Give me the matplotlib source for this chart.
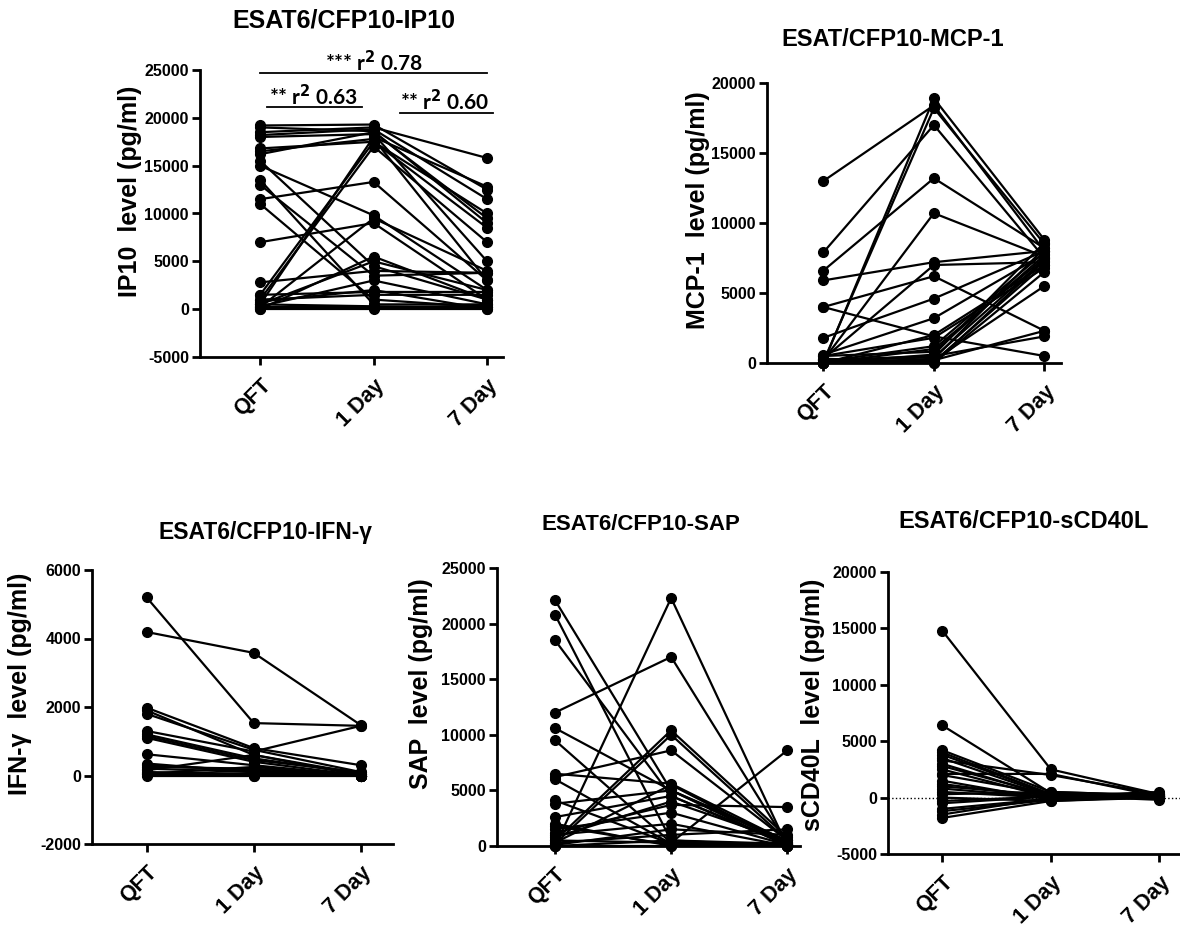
import matplotlib
matplotlib.use("Agg")
import matplotlib.pyplot as plt

plt.rcParams['font.family'] = ['Liberation Sans', 'DejaVu Sans']
plt.rcParams['font.weight'] = 'bold'
plt.rcParams['axes.unicode_minus'] = False

days = ['QFT', '1 Day', '7 Day']

# one value per subject at QFT, 1 Day, 7 Day
ip10_qft = [19200, 18500, 18200, 16800, 16200, 11500, 15000, 7000, 13500, 13000,
            11000, 2800, 1500, 1000, 500, 200, 500, 0, 200, 0,
            500, 1000, 1500, 300, 800, 18000, 16500, 19000, 15500, 100]
ip10_day1 = [19300, 19000, 18800, 17500, 18500, 13300, 9800, 9000, 500, 3500,
             1000, 4000, 17500, 17000, 18000, 9500, 5000, 5500, 200, 0,
             300, 1500, 1800, 3000, 2000, 18300, 17800, 18600, 4500, 100]
ip10_day7 = [12500, 15800, 11500, 10000, 9500, 3000, 2000, 1000, 500, 3800,
             200, 3800, 8500, 7000, 12800, 4000, 2000, 1000, 200, 0,
             200, 1500, 1800, 500, 0, 5000, 3000, 9000, 1000, 400]

mcp_qft = [13000, 7900, 6600, 5900, 4000, 4000, 1800, 600, 200, 0,
           100, 300, 0, 500, 0, 200, 0, 100, 0, 300,
           0, 500, 100, 0, 200, 0]
mcp_day1 = [18400, 17000, 13200, 7200, 6200, 1900, 4600, 3200, 10700, 18900,
            18200, 7000, 2000, 1800, 1000, 500, 200, 0, 300, 100,
            0, 800, 1200, 600, 400, 200]
mcp_day7 = [8000, 7500, 8200, 8000, 2300, 500, 8000, 7800, 7600, 8800,
            8500, 7200, 7000, 6800, 7500, 1900, 5500, 7300, 8200, 7000,
            6500, 7700, 7900, 8600, 7400, 2300]

ifn_qft = [5200, 4190, 1980, 1800, 1300, 1200, 1100, 620, 300, 200,
           100, 250, 0, 150, 50, 350, 80, 1900, 1150, 30]
ifn_day1 = [1530, 3580, 800, 750, 700, 500, 400, 300, 150, 100,
            50, 200, 0, 600, 250, 100, 20, 600, 450, 0]
ifn_day7 = [1450, 1470, 300, 100, 1450, 50, 0, 0, 0, 50,
            0, 0, 0, 50, 0, 0, 0, 0, 100, 0]

sap_qft = [22100, 20800, 18500, 12000, 10600, 9500, 6200, 6500, 0, 500,
           200, 4100, 3800, 2600, 1500, 1000, 500, 300, 0, 800,
           100, 2000, 6000, 1200, 300, 0, 1800]
sap_day1 = [5000, 500, 4500, 17000, 5000, 300, 8600, 5600, 22300, 10400,
            10000, 200, 5000, 4500, 3000, 2000, 300, 1000, 0, 4000,
            1500, 0, 200, 3700, 5500, 500, 100]
sap_day7 = [0, 200, 100, 200, 500, 100, 500, 400, 0, 800,
            500, 0, 300, 200, 100, 0, 8600, 1500, 0, 400,
            1000, 200, 0, 3500, 100, 0, 300]

cd40_qft = [14800, 6400, 2100, 4200, 3800, 3500, 3000, 2500, 2000, 1500,
            1000, 500, 0, -500, -1000, -1500, -1800, 2800, 1200, 300,
            -300, 3300, 800, -1200, 4000]
cd40_day1 = [2500, 400, 2100, 500, 300, 200, 100, 0, 300, -200,
             200, 0, -300, 100, -100, 0, -300, 200, 0, 500,
             100, 2000, 0, -200, 300]
cd40_day7 = [300, 100, 100, 200, 100, 0, 200, 0, 100, 0,
             -200, 300, 0, 100, 0, 0, 100, 400, 0, 200,
             500, 300, 0, 100, 0]

W, H = 1180, 936
fig = plt.figure(figsize=(W / 100, H / 100), dpi=100)


def make_axes(left, right, bottom_px, top_px):
    return fig.add_axes([left / W, 1 - bottom_px / H, (right - left) / W, (bottom_px - top_px) / H])


def panel(ax, qft, d1, d7, ylim, yticks, xlim, ylabel, label_xy):
    for a, b, c in zip(qft, d1, d7):
        ax.plot([0, 1, 2], [a, b, c], color='black', lw=1.6, marker='o', ms=7, clip_on=False, zorder=3)
    ax.set_xlim(*xlim)
    ax.set_ylim(*ylim)
    ax.set_yticks(yticks)
    ax.set_xticks([0, 1, 2])
    ax.set_xticklabels(days, rotation=45, ha='right', rotation_mode='anchor', fontsize=15.5, fontweight='bold')
    for lab in ax.get_yticklabels():
        lab.set_fontsize(11.5)
        lab.set_fontweight('bold')
    ax.spines['top'].set_visible(False)
    ax.spines['right'].set_visible(False)
    ax.spines['left'].set_linewidth(2)
    ax.spines['bottom'].set_linewidth(2)
    ax.tick_params(axis='both', direction='out', length=6, width=2, pad=2)
    ax.tick_params(axis='x', pad=7)
    ax.set_ylabel(ylabel, fontsize=18, fontweight='bold')
    ax.yaxis.set_label_coords(*label_xy)


ax1 = make_axes(200, 503, 357, 70)
panel(ax1, ip10_qft, ip10_day1, ip10_day7, (-5000, 25000), range(-5000, 25001, 5000), (-0.53, 2.14),
      'IP10  level (pg/ml)', (-0.19, 0.578))

ax2 = make_axes(767, 1061, 363, 83)
panel(ax2, mcp_qft, mcp_day1, mcp_day7, (0, 20000), range(0, 20001, 5000), (-0.51, 2.15),
      'MCP-1  level (pg/ml)', (-0.195, 0.546))

ax3 = make_axes(92, 393, 844, 570)
panel(ax3, ifn_qft, ifn_day1, ifn_day7, (-2000, 6000), range(-2000, 6001, 2000), (-0.51, 2.3),
      'IFN-\u03b3  level (pg/ml)', (-0.2, 0.584))

ax4 = make_axes(497, 800, 846, 568)
panel(ax4, sap_qft, sap_day1, sap_day7, (0, 25000), range(0, 25001, 5000), (-0.5, 2.11),
      'SAP  level (pg/ml)', (-0.21, 0.583))

ax5 = make_axes(888, 1180, 854, 572)
panel(ax5, cd40_qft, cd40_day1, cd40_day7, (-5000, 20000), range(-5000, 20001, 5000), (-0.5, 2.19),
      'sCD40L  level (pg/ml)', (-0.215, 0.528))
ax5.axhline(0, color='black', lw=1, ls=':', zorder=1)

# titles
fig.text(344 / W, 1 - 20 / H, 'ESAT6/CFP10-IP10', ha='center', va='center', fontsize=18, fontweight='bold')
fig.text(893 / W, 1 - 40 / H, 'ESAT/CFP10-MCP-1', ha='center', va='center', fontsize=17, fontweight='bold')
fig.text(266 / W, 1 - 532 / H, 'ESAT6/CFP10-IFN-\u03b3', ha='center', va='center', fontsize=16.5, fontweight='bold')
fig.text(641 / W, 1 - 525 / H, 'ESAT6/CFP10-SAP', ha='center', va='center', fontsize=16, fontweight='bold')
fig.text(1024 / W, 1 - 522 / H, 'ESAT6/CFP10-sCD40L', ha='center', va='center', fontsize=17, fontweight='bold')

# significance bars on IP10 panel
sig_font = ['Lato', 'DejaVu Sans']
bars = [(0.0, 2.0, 24700, 1.0, 25750, '***', '0.78'),
        (0.06, 0.9, 21130, 0.47, 22200, '**', '0.63'),
        (1.23, 2.05, 20500, 1.63, 21650, '**', '0.60')]
for x0, x1, yb, xt, yt, stars, r in bars:
    ax1.plot([x0, x1], [yb, yb], color='black', lw=1.3, clip_on=False)
    ax1.text(xt, yt, stars + ' r$^{\\mathbf{2}}$ ' + r, ha='center', va='center', fontsize=15,
             fontweight='bold', family=sig_font, clip_on=False)

fig.savefig('out.png', dpi=100)
